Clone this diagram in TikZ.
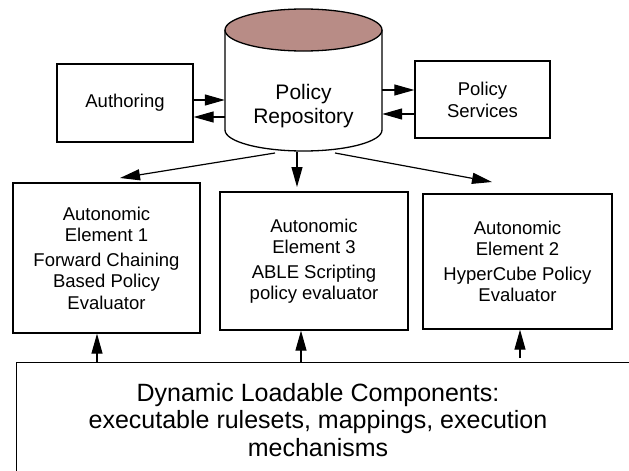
\documentclass[tikz,border=0pt]{standalone}
\usepackage{fontspec}
\setmainfont{Liberation Sans}
\usepackage{xcolor}
\usepackage{tikz}
\usetikzlibrary{arrows.meta}
\definecolor{repotop}{RGB}{184,140,134}

\begin{document}
\begin{tikzpicture}[x=1pt,y=-1pt,
squarednode/.style={rectangle, align=center, draw=black, line width=1.3pt},
elementtext/.style={font=\fontsize{18.5}{21.5}\selectfont},
bigtext/.style={align=center, font=\fontsize{25}{27.5}\selectfont},
link/.style={-{Triangle[length=20pt,width=11pt]}, line width=1.2pt},
]
\useasboundingbox (0,0) rectangle (629,471);

%Repository
\fill[white] (225,30) -- (225,130) arc[start angle=180, end angle=0, x radius=78.5, y radius=21] -- (382,30) -- cycle;
\draw[line width=1.3pt] (225,30) -- (225,130) arc[start angle=180, end angle=0, x radius=78.5, y radius=21] -- (382,30);
\draw[line width=1.3pt, fill=repotop] (303.5,30) ellipse [x radius=78.5, y radius=21];
\node[align=center, minimum width=157pt, inner sep=0pt, font=\fontsize{21}{24}\selectfont](Repository) at (303.5,106) {Policy\\Repository};
\coordinate (RepoLeftOut) at (275,153);
\coordinate (RepoMidOut) at (297,152);
\coordinate (RepoRightOut) at (335,153);

%Nodes
\node[squarednode, minimum width=136pt, minimum height=78pt, font=\fontsize{18.5}{22}\selectfont](Authoring) at (125,103) {Authoring};
\node[squarednode, minimum width=135pt, minimum height=77pt, font=\fontsize{18.5}{22}\selectfont](Services) at (482.5,99.5) {Policy\\Services};
\node[squarednode, elementtext, minimum width=187pt, minimum height=150pt](Element1) at (106.5,258) {Autonomic\\Element 1\\[3pt]Forward Chaining\\Based Policy\\Evaluator};
\node[squarednode, elementtext, minimum width=188pt, minimum height=138pt](Element3) at (314,261) {Autonomic\\Element 3\\[3pt]ABLE Scripting\\policy evaluator};
\node[squarednode, elementtext, minimum width=189pt, minimum height=135pt](Element2) at (517.5,261.5) {Autonomic\\Element 2\\[3pt]HyperCube Policy\\Evaluator};
\node[squarednode, anchor=north west, minimum width=640pt, minimum height=130pt](Components) at (16,362) {};
\node[bigtext](ComponentsLabel) at (318,420) {Dynamic Loadable Components:\\executable rulesets, mappings, execution\\mechanisms};
\coordinate (Element1In) at (120,178);
\coordinate (Element3In) at (297,187);
\coordinate (Element2In) at (492,182);

%Lines
\draw[link] ([yshift=3pt]Authoring.east) -- ([yshift=3pt]Authoring.east -| Repository.west);
\draw[link] ([yshift=-14pt]Authoring.east -| Repository.west) -- ([yshift=-14pt]Authoring.east);
\draw[link] ([yshift=9.5pt]Services.west -| Repository.east) -- ([yshift=9.5pt]Services.west);
\draw[link] ([yshift=-14.5pt]Services.west) -- ([yshift=-14.5pt]Services.west -| Repository.east);
\draw[link] (RepoLeftOut) -- (Element1In);
\draw[link] (RepoMidOut) -- (Element3In);
\draw[link] (RepoRightOut) -- (Element2In);
\draw[link] ([xshift=-9.5pt]Element1.south |- Components.north) -- ([xshift=-9.5pt]Element1.south);
\draw[link] ([xshift=-13pt]Element3.south |- Components.north) -- ([xshift=-13pt]Element3.south);
\draw[link] ([xshift=2.5pt,yshift=4pt]Element2.south |- Components.north) -- ([xshift=2.5pt]Element2.south);

\end{tikzpicture}
\end{document}
